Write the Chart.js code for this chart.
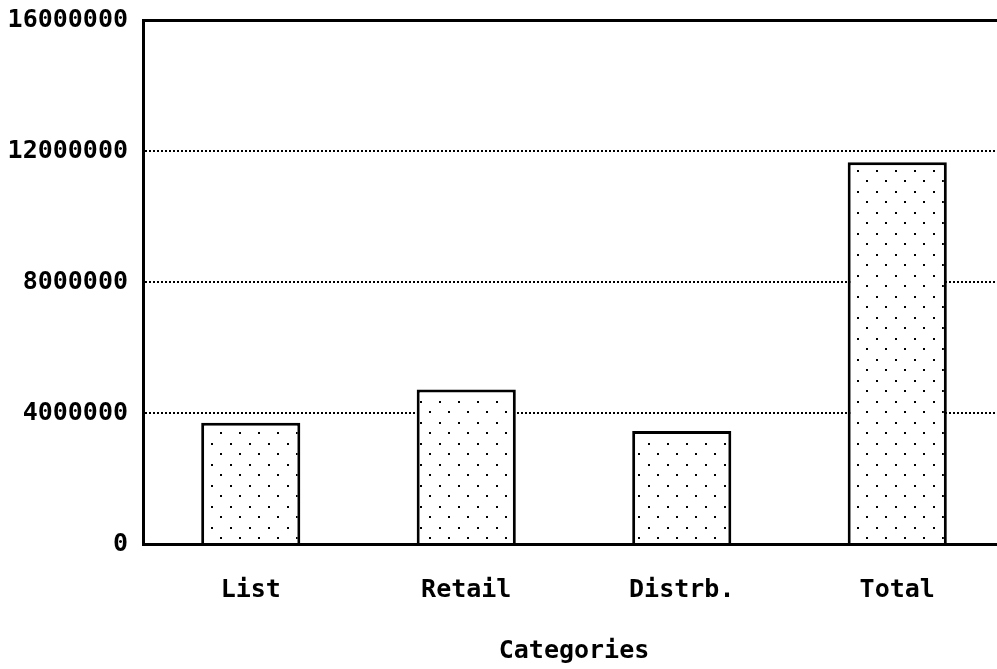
<!DOCTYPE html>
<html>
<head>
<meta charset="utf-8">
<script src="https://cdn.jsdelivr.net/npm/chart.js@4/dist/chart.umd.min.js"></script>
<style>
  html, body { margin: 0; padding: 0; background: #fff; overflow: hidden; }
</style>
</head>
<body>
<canvas id="barChart" width="1005" height="669"></canvas>
<script>
const categories = ["List", "Retail", "Distrb.", "Total"];
const amounts = [3700000, 4720000, 3450000, 11660000];
const yTickValues = [0, 4000000, 8000000, 12000000, 16000000];

// stipple fill like the old plotter output
function dotPattern() {
  const c = document.createElement("canvas");
  c.width = 19;
  c.height = 21;
  const g = c.getContext("2d");
  g.fillStyle = "#fff";
  g.fillRect(0, 0, c.width, c.height);
  g.fillStyle = "#000";
  g.fillRect(2, 2, 2, 2);
  g.fillRect(11, 12, 2, 2);
  return g.createPattern(c, "repeat");
}

document.addEventListener("DOMContentLoaded", function () {
  const el = document.getElementById("barChart");
  const font = { family: "'DejaVu Sans Mono', monospace", size: 25, weight: "bold" };
  // small lineHeight only so the top label doesn't push the plot down
  const yFont = { family: "'DejaVu Sans Mono', monospace", size: 25, weight: "bold", lineHeight: 0.4 };
  const yMax = yTickValues[yTickValues.length - 1];

  new Chart(el, {
    type: "bar",
    data: {
      labels: categories,
      datasets: [{
        data: amounts,
        backgroundColor: dotPattern(),
        borderColor: "#000",
        borderWidth: 3,
        categoryPercentage: 1,
        barPercentage: 0.46,
      }],
    },
    options: {
      responsive: false,
      animation: false,
      layout: { padding: { top: 20, left: 0, right: 0, bottom: 0 } },
      plugins: { legend: { display: false }, tooltip: { enabled: false } },
      scales: {
        x: {
          grid: { display: false, drawTicks: false },
          border: { display: true, color: "#000", width: 3 },
          ticks: { color: "#000", font: font, padding: 31, maxRotation: 0 },
          title: { display: true, text: "Categories", color: "#000", font: font, padding: { top: 0, bottom: 3 } },
        },
        y: {
          min: 0,
          max: yMax,
          afterBuildTicks: function (scale) {
            scale.ticks = yTickValues.map(function (v) { return { value: v }; });
          },
          afterFit: function (scale) { scale.width = 143; },
          grid: {
            drawTicks: false,
            color: function (ctx) { return ctx.tick && ctx.tick.value === 0 ? "rgba(0,0,0,0)" : "#000"; },
            lineWidth: function (ctx) { return ctx.tick && ctx.tick.value === yMax ? 3 : 2; },
          },
          border: {
            display: true,
            color: "#000",
            width: 3,
            dash: function (ctx) { return ctx.tick && ctx.tick.value === yMax ? [] : [2, 2]; },
          },
          ticks: {
            color: "#000",
            font: yFont,
            padding: 15,
            callback: function (v) { return String(v); },
          },
        },
      },
    },
  });
});
</script>
</body>
</html>
